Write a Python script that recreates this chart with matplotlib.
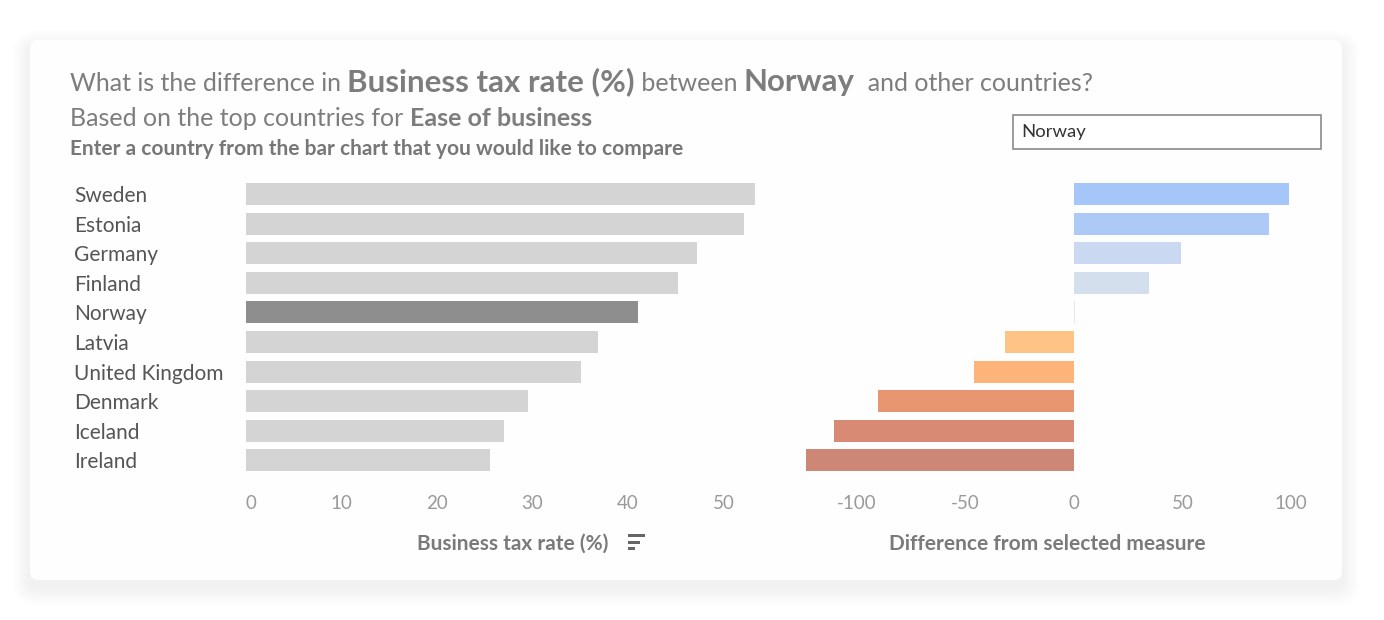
import matplotlib.pyplot as plt
from matplotlib.patches import FancyBboxPatch, Rectangle
import matplotlib.transforms as mtransforms

# data
countries = ["Sweden", "Estonia", "Germany", "Finland", "Norway",
             "Latvia", "United Kingdom", "Denmark", "Iceland", "Ireland"]
tax_rate = [53.3, 52.1, 47.2, 45.2, 41.0, 36.9, 35.1, 29.5, 27.0, 25.5]
difference = [99, 90, 49.5, 34.4, 0.6, -31.7, -45.9, -90.4, -110.6, -123.4]
diff_colors = ["#a4c6f8", "#adc9f5", "#cbd8f2", "#d4dfee", "#ece8d9",
               "#fdc486", "#fdb47a", "#e89672", "#d98a74", "#cc8775"]
selected = "Norway"
left_ticks = [0, 10, 20, 30, 40, 50]
right_ticks = [-100, -50, 0, 50, 100]

W, H = 1384, 620
FONT = "Lato"

fig = plt.figure(figsize=(W / 100, H / 100), dpi=100)
fig.patch.set_facecolor("white")


def fx(px):
    return px / W


def fy(py):
    return 1 - py / H


# card with soft shadow, drawn in inches so the corners stay round
inch = fig.dpi_scale_trans
cx, cy, cw, ch = 30, 40, 1312, 540
for i in range(14):
    g = 18 - i * 1.3
    off = 8
    sh = FancyBboxPatch(((cx - g) / 100, (H - cy - ch - g - off) / 100),
                        (cw + 2 * g) / 100, (ch + 2 * g) / 100,
                        boxstyle="round,pad=0,rounding_size=%f" % ((8 + g) / 100),
                        transform=inch, facecolor="black", alpha=0.0045,
                        edgecolor="none", zorder=0)
    fig.patches.append(sh)
card = FancyBboxPatch((cx / 100, (H - cy - ch) / 100), cw / 100, ch / 100,
                      boxstyle="round,pad=0,rounding_size=0.08",
                      transform=inch, facecolor="#fefefe",
                      edgecolor="none", zorder=1)
fig.patches.append(card)

# title with mixed weights
renderer = fig.canvas.get_renderer()


def run_text(x_px, y_px, pieces):
    x = x_px
    for txt, size, weight, color in pieces:
        t = fig.text(fx(x), fy(y_px), txt, fontsize=size, fontweight=weight,
                     color=color, family=FONT, va="baseline", ha="left", zorder=5)
        bb = t.get_window_extent(renderer=renderer)
        x += bb.width


grey = "#7d7d7d"
run_text(70, 91, [("What is the difference in ", 18, "normal", grey),
                  ("Business tax rate (%)", 22.5, "bold", grey),
                  (" between ", 18, "normal", grey),
                  ("Norway", 22.5, "bold", grey),
                  ("  and other countries?", 18, "normal", grey)])
run_text(70, 126, [("Based on the top countries for ", 18, "normal", grey),
                   ("Ease of business", 18, "bold", grey)])
run_text(70, 155, [("Enter a country from the bar chart that you would like to compare",
                    15, "bold", "#777777")])

# input box
box = Rectangle((fx(1013), fy(149)), fx(308), 34 / H, transform=fig.transFigure,
                facecolor="white", edgecolor="#8a8a8a", linewidth=1.2, zorder=5)
fig.patches.append(box)
fig.text(fx(1021), fy(132), selected, fontsize=13.3, color="#333333",
         family=FONT, va="center", ha="left", zorder=6)

n = len(countries)
row_px = 29.6
top_px = 194 - row_px / 2
ax_h = row_px * n

# left chart
px_per_unit = 9.55
l_left = 246
l_max = 56
ax1 = fig.add_axes([fx(l_left), fy(top_px + ax_h), fx(l_max * px_per_unit), ax_h / H])
ax1.set_zorder(3)
ypos = list(range(n))
left_colors = ["#8e8e8e" if c == selected else "#d4d4d4" for c in countries]
ax1.barh(ypos, tax_rate, height=0.74, color=left_colors, zorder=3)
ax1.set_xlim(0, l_max)
ax1.set_ylim(n - 0.5, -0.5)
ax1.set_yticks([])
ax1.set_xticks(left_ticks)
ax1.set_xticklabels([str(v) for v in left_ticks], fontsize=13.5, color="#9a9a9a", family=FONT)
ax1.tick_params(axis="x", length=0, pad=14)
for lab in ax1.get_xticklabels()[:1]:
    lab.set_ha("left")
for s in ax1.spines.values():
    s.set_visible(False)
ax1.patch.set_alpha(0)

trans = mtransforms.blended_transform_factory(fig.transFigure, ax1.transData)
for i, c in enumerate(countries):
    ax1.text(fx(74), i + 0.07, c, transform=trans, fontsize=15, color="#555555",
             family=FONT, va="center", ha="left")

fig.text(fx(513), fy(544), "Business tax rate (%)", fontsize=15, fontweight="bold",
         color="#7a7a7a", family=FONT, ha="center", va="center", zorder=6)
# sort icon
for k, wdt in enumerate([17, 12, 7]):
    fig.patches.append(Rectangle((fx(628), fy(537 + k * 6.5)), fx(wdt), 3 / H,
                                 transform=fig.transFigure, facecolor="#666666",
                                 edgecolor="none", zorder=6))

# right chart
r_ppu = 2.17
r_min, r_max = -132, 106
zero_px = 1074
r_left = zero_px + r_min * r_ppu
ax2 = fig.add_axes([fx(r_left), fy(top_px + ax_h), fx((r_max - r_min) * r_ppu), ax_h / H])
ax2.set_zorder(3)
ax2.barh(ypos, difference, height=0.74, color=diff_colors, zorder=3)
ax2.set_xlim(r_min, r_max)
ax2.set_ylim(n - 0.5, -0.5)
ax2.set_yticks([])
ax2.set_xticks(right_ticks)
ax2.set_xticklabels([str(v) for v in right_ticks], fontsize=13.5, color="#9a9a9a", family=FONT)
ax2.tick_params(axis="x", length=0, pad=14)
for s in ax2.spines.values():
    s.set_visible(False)
ax2.patch.set_alpha(0)

fig.text(fx(1047), fy(544), "Difference from selected measure", fontsize=15,
         fontweight="bold", color="#7a7a7a", family=FONT, ha="center", va="center", zorder=6)

plt.savefig("out.png", dpi=100)
